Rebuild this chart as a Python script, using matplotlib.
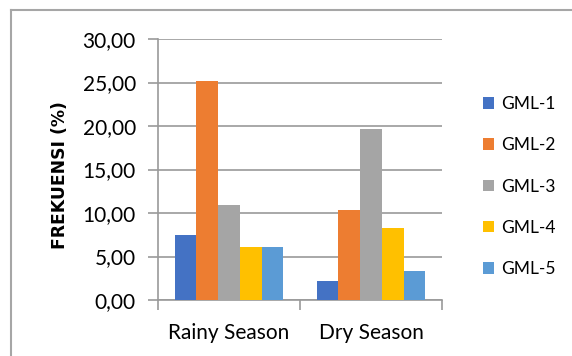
import matplotlib

matplotlib.use('Agg')
import matplotlib.pyplot as plt
import numpy as np
from matplotlib.lines import Line2D

plt.rcParams['font.family'] = ['Lato', 'DejaVu Sans']

# frekuensi per season for each station
seasons = ['Rainy Season', 'Dry Season']
stations = ['GML-1', 'GML-2', 'GML-3', 'GML-4', 'GML-5']
gml1 = [7.5, 2.2]
gml2 = [25.2, 10.3]
gml3 = [10.9, 19.6]
gml4 = [6.1, 8.3]
gml5 = [6.1, 3.3]
yticks = [0, 5, 10, 15, 20, 25, 30]

COLORS = ['#4472C4', '#ED7D31', '#A5A5A5', '#FFC000', '#5B9BD5']
GRID = '#9a9a9a'
FRAME = '#a6a6a6'

fig = plt.figure(figsize=(5.72, 3.56), dpi=100)
fig.patch.set_facecolor('white')
ax = fig.add_axes([158 / 572, 56 / 356, 284 / 572, 261 / 356])

x = np.arange(len(seasons))
width = 0.153
series = [gml1, gml2, gml3, gml4, gml5]
for i, (name, vals) in enumerate(zip(stations, series)):
    offset = (i - 2) * width
    ax.bar(x + offset, vals, width, color=COLORS[i], label=name, zorder=3)

ax.set_xlim(-0.5, 1.5)
ax.set_ylim(0, 30)
ax.set_yticks(yticks)
ax.set_yticklabels([f'{v:.2f}'.replace('.', ',') for v in yticks])
ax.yaxis.grid(True, color=GRID, linewidth=1.2, zorder=0)
ax.set_axisbelow(True)

# category ticks sit on the boundaries between groups
ax.set_xticks([-0.5, 0.5, 1.5], minor=False)
ax.set_xticklabels([])
ax.set_xticks(x, minor=True)
ax.set_xticklabels(seasons, minor=True)
ax.tick_params(axis='x', which='minor', length=0, pad=16.5, labelsize=15)
ax.tick_params(axis='x', which='major', length=7, width=1.2, color=GRID, direction='out')
ax.tick_params(axis='y', length=7, width=1.2, color=GRID, pad=9, labelsize=15)

for side in ['top', 'right']:
    ax.spines[side].set_visible(False)
for side in ['left', 'bottom']:
    ax.spines[side].set_color(GRID)
    ax.spines[side].set_linewidth(1.2)

ax.set_ylabel('FREKUENSI (%)', fontsize=12.3, fontweight='bold',
              family=['DejaVu Sans'])
ax.yaxis.set_label_coords(-0.345, 0.48)
ax.yaxis.label.set_va('center')

ax.legend(loc='center left', bbox_to_anchor=(483 / 572, 169.5 / 356),
          bbox_transform=fig.transFigure, frameon=False, fontsize=12.5,
          handlelength=0.66, handleheight=0.66, handletextpad=0.4,
          labelspacing=1.45, borderpad=0, borderaxespad=0)

# chart area border (runs off the right and bottom edges)
fig.add_artist(Line2D([11 / 572, 11 / 572], [0, 1 - 10 / 356],
                      transform=fig.transFigure, color=FRAME, linewidth=1.5))
fig.add_artist(Line2D([11 / 572, 1], [1 - 10 / 356, 1 - 10 / 356],
                      transform=fig.transFigure, color=FRAME, linewidth=1.5))

fig.savefig('out.png', dpi=100, facecolor='white')
